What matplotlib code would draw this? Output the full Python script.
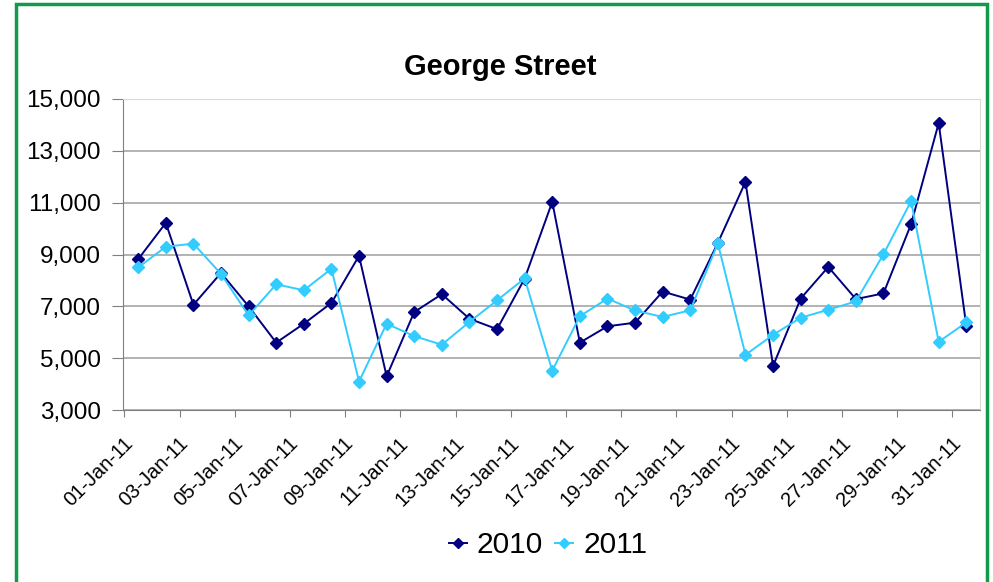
import matplotlib

matplotlib.use("Agg")
import matplotlib.pyplot as plt
from matplotlib.patches import Rectangle

plt.rcParams["font.family"] = ["Liberation Sans", "DejaVu Sans"]

days = [f"{d:02d}-Jan-11" for d in range(1, 32)]
sales_2010 = [8820, 10220, 7060, 8290, 7000, 5600, 6330, 7130, 8950, 4300,
              6780, 7470, 6520, 6120, 8070, 11030, 5600, 6230, 6370, 7570,
              7260, 9450, 11800, 4700, 7300, 8520, 7280, 7500, 10170, 14070,
              6250]
sales_2011 = [8500, 9300, 9420, 8250, 6650, 7850, 7620, 8450, 4100, 6330,
              5850, 5520, 6400, 7230, 8080, 4520, 6620, 7300, 6840, 6590,
              6850, 9430, 5130, 5900, 6560, 6870, 7190, 9010, 11060, 5630,
              6380]

fig = plt.figure(figsize=(9.93, 5.82), dpi=100)
ax = fig.add_axes([0.1239, 0.2955, 0.8631, 0.5344])

x = list(range(len(days)))
ax.plot(x, sales_2010, color="#000080", lw=1.4, marker="D", ms=6, label="2010")
ax.plot(x, sales_2011, color="#33ccff", lw=1.4, marker="D", ms=6, label="2011")

ax.set_xlim(-0.5, len(days) - 0.5)
ax.set_ylim(3000, 15000)
ax.set_yticks(range(3000, 15001, 2000))
ax.set_yticklabels([f"{v:,}" for v in range(3000, 15001, 2000)], fontsize=17.5)
ax.yaxis.grid(True, color="#a6a6a6", lw=1.2)
ax.set_axisbelow(True)

# tick marks on category boundaries, labels on every other day
ax.set_xticks([k - 0.5 for k in range(0, len(days), 2)])
ax.set_xticklabels([])
ax.set_xticks([i - 0.55 for i in range(0, len(days), 2)], minor=True)
ax.set_xticklabels(days[::2], minor=True, rotation=45, ha="right",
                   rotation_mode="anchor", fontsize=14.5)
ax.tick_params(axis="x", which="minor", length=0, pad=17)
ax.tick_params(axis="x", which="major", length=5, color="#808080")
ax.tick_params(axis="y", length=8, color="#808080", pad=8)

for side in ("left", "bottom"):
    ax.spines[side].set_color("#808080")
for side in ("top", "right"):
    ax.spines[side].set_color("#d9d9d9")

fig.text(0.504, 0.885, "George Street", ha="center", va="center",
         fontsize=21, fontweight="bold")

leg = ax.legend(loc="center", bbox_to_anchor=(0.552, 1 - 545 / 582),
                bbox_transform=fig.transFigure, ncol=2, frameon=False,
                fontsize=21.5, handlelength=0.6, handletextpad=0.35,
                columnspacing=0.4, borderaxespad=0, markerscale=0.8)

fig.patches.append(Rectangle((16 / 993, -0.05), (987 - 16) / 993, 1.05 - 4 / 582,
                             transform=fig.transFigure, fill=False,
                             edgecolor="#12994a", lw=2.5))

fig.savefig("out.png", dpi=100)
